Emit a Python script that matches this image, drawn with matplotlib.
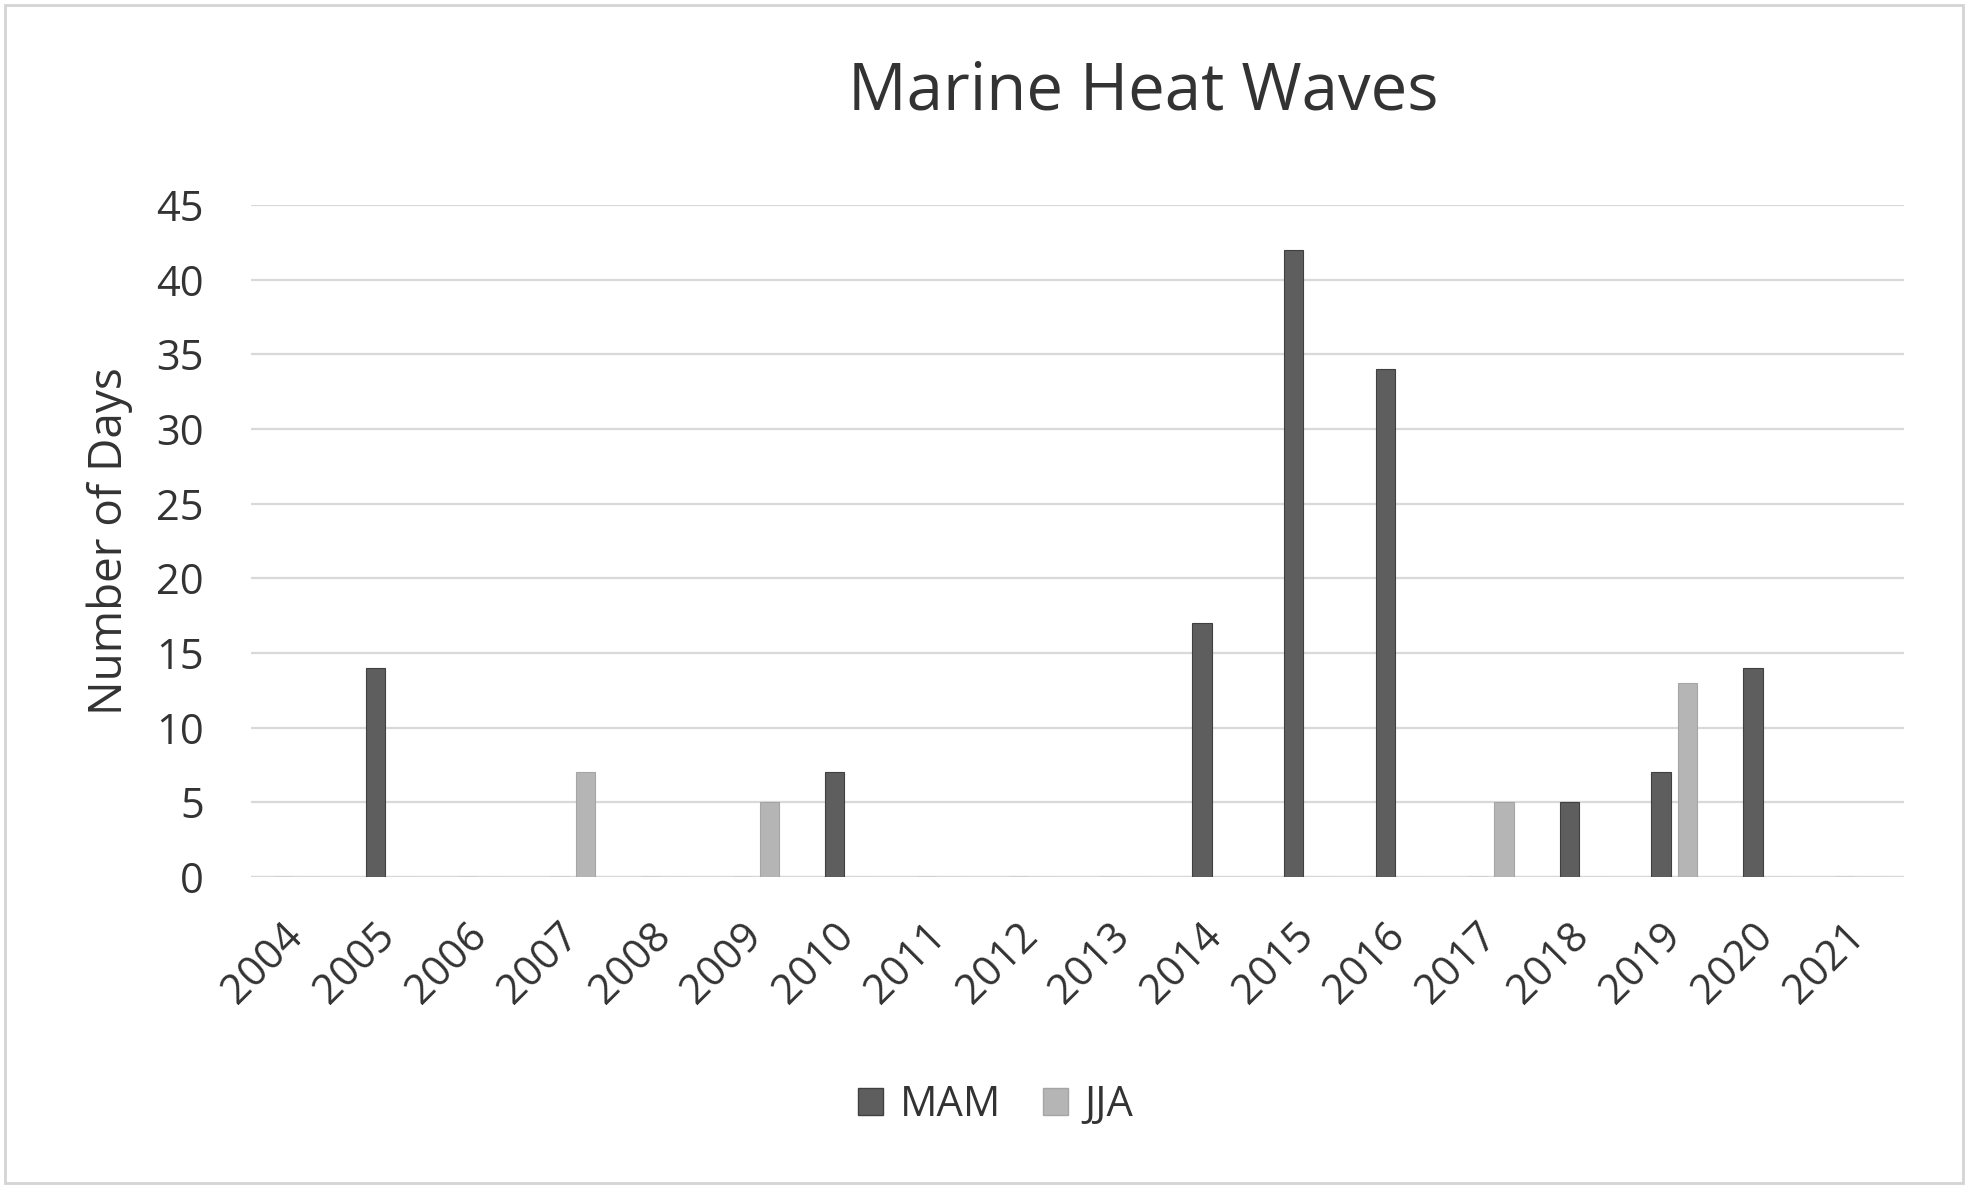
import matplotlib
matplotlib.use("Agg")
import matplotlib.pyplot as plt
import matplotlib.patches as mpatches
import numpy as np

years = [str(y) for y in range(2004, 2022)]
mam = [0, 14, 0, 0, 0, 0, 7, 0, 0, 0, 17, 42, 34, 0, 5, 7, 14, 0]
jja = [0, 0, 0, 7, 0, 5, 0, 0, 0, 0, 0, 0, 0, 5, 0, 13, 0, 0]
series_names = ["MAM", "JJA"]
title = "Marine Heat Waves"
ylabel = "Number of Days"

plt.rcParams['font.family'] = ['Open Sans', 'DejaVu Sans']
txt = '#333333'

W, H = 1969, 1187
fig = plt.figure(figsize=(W / 100, H / 100), dpi=100)
fig.patch.set_facecolor('white')

ax = fig.add_axes([251 / W, 1 - 877 / H, (1904 - 251) / W, (877 - 205) / H])
x = np.arange(len(years))
bw = 0.21
off = 0.145
c_mam = '#5e5e5e'
c_jja = '#b5b5b5'
ax.bar(x - off, mam, width=bw, color=c_mam, edgecolor='#404040', linewidth=0.8, label=series_names[0], zorder=3)
ax.bar(x + off, jja, width=bw, color=c_jja, edgecolor='#a5a5a5', linewidth=0.8, label=series_names[1], zorder=3)

ax.set_xlim(-0.5, len(years) - 0.5)
ax.set_ylim(0, 45)
ax.set_yticks(np.arange(0, 46, 5))
ax.yaxis.grid(True, color='#d9d9d9', linewidth=1.6, zorder=0)
ax.set_axisbelow(True)
for s in ax.spines.values():
    s.set_visible(False)
ax.axhline(0, color='#d9d9d9', linewidth=1.6, zorder=1)

ax.set_xticks(x)
ax.set_xticklabels(years, rotation=45, ha='right', va='center', rotation_mode='anchor')
ax.tick_params(axis='x', length=0, pad=38, labelsize=30, labelcolor=txt)
ax.tick_params(axis='y', length=0, pad=34, labelsize=30, labelcolor=txt)

fig.text(110 / W, 1 - 541 / H, ylabel, rotation=90, ha='center', va='center', fontsize=33, color=txt)
fig.text(1143 / W, 1 - 92 / H, title, ha='center', va='center', fontsize=47, color=txt)

handles = [mpatches.Patch(facecolor=c_mam, edgecolor='#404040'),
           mpatches.Patch(facecolor=c_jja, edgecolor='#a5a5a5')]
fig.legend(handles, series_names, loc='center', bbox_to_anchor=(996 / W, 1 - 1105 / H), ncol=2,
           frameon=False, fontsize=30, handlelength=0.6, handleheight=0.6, handletextpad=0.4,
           columnspacing=1.0, labelcolor=txt)

fig.add_artist(mpatches.Rectangle((5 / W, 4 / H), 1 - 11 / W, 1 - 9 / H, transform=fig.transFigure,
                                  fill=False, edgecolor='#d4d4d4', linewidth=2))

fig.savefig('out.png', dpi=100)
